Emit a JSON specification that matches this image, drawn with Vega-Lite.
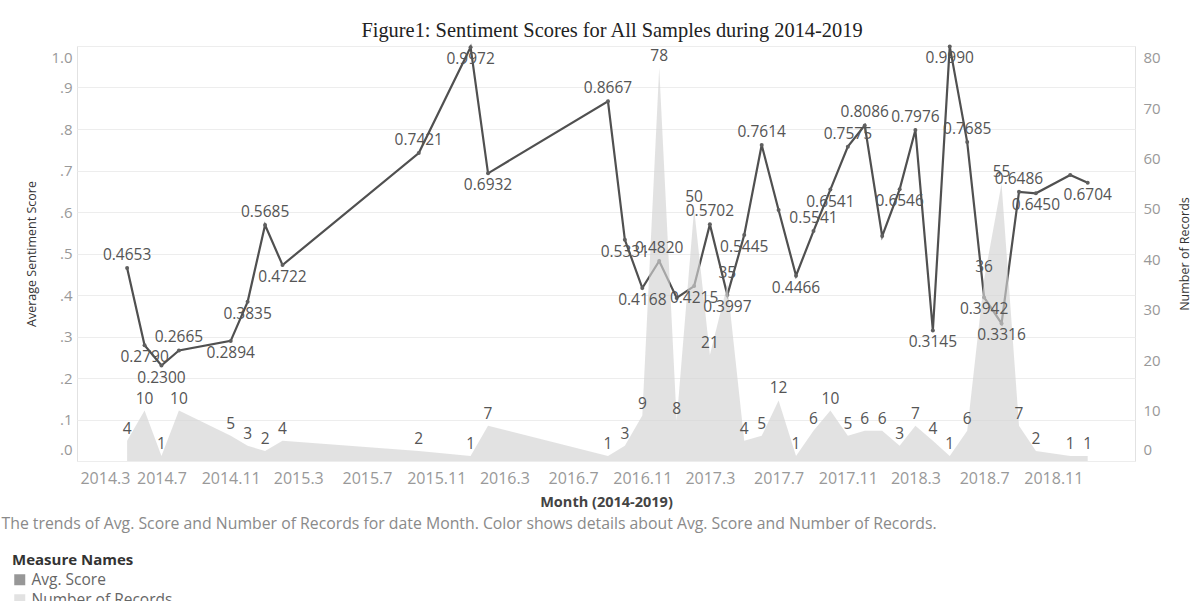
{
  "$schema": "https://vega.github.io/schema/vega-lite/v6.json",
  "width": 1058,
  "height": 415,
  "autosize": "none",
  "padding": {"left": 77, "top": 46, "right": 68, "bottom": 140},
  "background": "white",
  "title": {
    "text": "Figure1: Sentiment Scores for All Samples during 2014-2019",
    "font": "Liberation Serif",
    "fontSize": 20.4,
    "fontWeight": "normal",
    "color": "#222222",
    "anchor": "middle",
    "frame": "group",
    "dx": 6,
    "offset": 1
  },
  "data": {
    "values": [
      {"month": "2014-05-01", "score": 0.4653, "records": 4, "showLabel": true},
      {"month": "2014-06-01", "score": 0.2790, "records": 10, "showLabel": true},
      {"month": "2014-07-01", "score": 0.2300, "records": 1, "showLabel": true},
      {"month": "2014-08-01", "score": 0.2665, "records": 10, "showLabel": true},
      {"month": "2014-11-01", "score": 0.2894, "records": 5, "showLabel": true},
      {"month": "2014-12-01", "score": 0.3835, "records": 3, "showLabel": true},
      {"month": "2015-01-01", "score": 0.5685, "records": 2, "showLabel": true},
      {"month": "2015-02-01", "score": 0.4722, "records": 4, "showLabel": true},
      {"month": "2015-10-01", "score": 0.7421, "records": 2, "showLabel": true},
      {"month": "2016-01-01", "score": 0.9972, "records": 1, "showLabel": true},
      {"month": "2016-02-01", "score": 0.6932, "records": 7, "showLabel": true},
      {"month": "2016-09-01", "score": 0.8667, "records": 1, "showLabel": true},
      {"month": "2016-10-01", "score": 0.5331, "records": 3, "showLabel": true},
      {"month": "2016-11-01", "score": 0.4168, "records": 9, "showLabel": true},
      {"month": "2016-12-01", "score": 0.4820, "records": 78, "showLabel": true},
      {"month": "2017-01-01", "score": 0.3930, "records": 8, "showLabel": false},
      {"month": "2017-02-01", "score": 0.4215, "records": 50, "showLabel": true},
      {"month": "2017-03-01", "score": 0.5702, "records": 21, "showLabel": true},
      {"month": "2017-04-01", "score": 0.3997, "records": 35, "showLabel": true},
      {"month": "2017-05-01", "score": 0.5445, "records": 4, "showLabel": true},
      {"month": "2017-06-01", "score": 0.7614, "records": 5, "showLabel": true},
      {"month": "2017-07-01", "score": 0.6050, "records": 12, "showLabel": false},
      {"month": "2017-08-01", "score": 0.4466, "records": 1, "showLabel": true},
      {"month": "2017-09-01", "score": 0.5541, "records": 6, "showLabel": true},
      {"month": "2017-10-01", "score": 0.6541, "records": 10, "showLabel": true},
      {"month": "2017-11-01", "score": 0.7575, "records": 5, "showLabel": true},
      {"month": "2017-12-01", "score": 0.8086, "records": 6, "showLabel": true},
      {"month": "2018-01-01", "score": 0.5420, "records": 6, "showLabel": false},
      {"month": "2018-02-01", "score": 0.6546, "records": 3, "showLabel": true},
      {"month": "2018-03-01", "score": 0.7976, "records": 7, "showLabel": true},
      {"month": "2018-04-01", "score": 0.3145, "records": 4, "showLabel": true},
      {"month": "2018-05-01", "score": 0.9990, "records": 1, "showLabel": true},
      {"month": "2018-06-01", "score": 0.7685, "records": 6, "showLabel": true},
      {"month": "2018-07-01", "score": 0.3942, "records": 36, "showLabel": true},
      {"month": "2018-08-01", "score": 0.3316, "records": 55, "showLabel": true},
      {"month": "2018-09-01", "score": 0.6486, "records": 7, "showLabel": true},
      {"month": "2018-10-01", "score": 0.6450, "records": 2, "showLabel": true},
      {"month": "2018-12-01", "score": 0.6890, "records": 1, "showLabel": false},
      {"month": "2019-01-01", "score": 0.6704, "records": 1, "showLabel": true}
    ]
  },
  "layer": [
    {
      "encoding": {
        "x": {
          "field": "month",
          "type": "temporal",
          "scale": {
            "type": "utc",
            "domain": [
              {"year": 2014, "month": 2, "date": 1, "utc": true},
              {"year": 2019, "month": 3, "date": 26, "utc": true}
            ]
          },
          "axis": {
            "orient": "bottom",
            "values": [
              {"year": 2014, "month": 3, "date": 1, "utc": true},
              {"year": 2014, "month": 7, "date": 1, "utc": true},
              {"year": 2014, "month": 11, "date": 1, "utc": true},
              {"year": 2015, "month": 3, "date": 1, "utc": true},
              {"year": 2015, "month": 7, "date": 1, "utc": true},
              {"year": 2015, "month": 11, "date": 1, "utc": true},
              {"year": 2016, "month": 3, "date": 1, "utc": true},
              {"year": 2016, "month": 7, "date": 1, "utc": true},
              {"year": 2016, "month": 11, "date": 1, "utc": true},
              {"year": 2017, "month": 3, "date": 1, "utc": true},
              {"year": 2017, "month": 7, "date": 1, "utc": true},
              {"year": 2017, "month": 11, "date": 1, "utc": true},
              {"year": 2018, "month": 3, "date": 1, "utc": true},
              {"year": 2018, "month": 7, "date": 1, "utc": true},
              {"year": 2018, "month": 11, "date": 1, "utc": true}
            ],
            "labelExpr": "utcFormat(datum.value, '%Y.%-m')",
            "labelFlush": 20,
            "labelFlushOffset": 12.8,
            "labelOverlap": false,
            "labelPadding": 9,
            "labelFontSize": 16,
            "labelColor": "#999999",
            "ticks": false,
            "domain": false,
            "grid": false,
            "title": "Month (2014-2019)",
            "titleX": 529,
            "titleY": 41,
            "titleAlign": "center",
            "titleBaseline": "middle",
            "titleFontSize": 14.5,
            "titleFontWeight": "bold",
            "titleColor": "#444444"
          }
        },
        "y": {
          "field": "score",
          "type": "quantitative",
          "scale": {"domain": [0, 1], "nice": false, "zero": false},
          "axis": {
            "orient": "left",
            "values": [0, 0.1, 0.2, 0.3, 0.4, 0.5, 0.6, 0.7, 0.8, 0.9, 1],
            "labelExpr": "datum.value >= 1 ? '1.0' : replace(format(datum.value, '.1f'), '0.', '.')",
            "labelFlush": true,
            "labelFlushOffset": -4,
            "labelPadding": 5,
            "labelFontSize": 15,
            "labelColor": "#999999",
            "ticks": false,
            "domain": false,
            "grid": true,
            "gridColor": "#ededed",
            "title": "Average Sentiment Score",
            "titleX": -46,
            "titleY": 207.5,
            "titleAngle": 270,
            "titleAlign": "center",
            "titleBaseline": "middle",
            "titleFontSize": 12.5,
            "titleFontWeight": "normal",
            "titleColor": "#333333"
          }
        }
      },
      "layer": [
        {"mark": {"type": "line", "color": "#505050", "strokeWidth": 2.2}},
        {
          "mark": {"type": "point", "filled": true, "size": 16, "opacity": 1},
          "encoding": {
            "color": {
              "datum": "Avg. Score",
              "scale": {
                "domain": ["Avg. Score", "Number of Records"],
                "range": ["#5f5f5f", "#d2d2d2"]
              },
              "legend": {
                "orient": "none",
                "legendX": -65,
                "legendY": 507,
                "title": "Measure Names",
                "symbolType": "square",
                "symbolSize": 121,
                "symbolStrokeWidth": 0,
                "symbolOpacity": 1,
                "titleFont": "Open Sans",
                "titleFontSize": 15,
                "titleFontWeight": "bold",
                "titleColor": "#333333",
                "titlePadding": 4,
                "labelFont": "Open Sans",
                "labelFontSize": 15.5,
                "labelColor": "#666666",
                "rowPadding": 3,
                "padding": 0
              }
            }
          }
        }
      ]
    },
    {
      "encoding": {
        "x": {
          "field": "month",
          "type": "temporal",
          "scale": {
            "type": "utc",
            "domain": [
              {"year": 2014, "month": 2, "date": 1, "utc": true},
              {"year": 2019, "month": 3, "date": 26, "utc": true}
            ]
          },
          "axis": {
            "orient": "bottom",
            "labels": false,
            "ticks": false,
            "domain": false,
            "grid": false,
            "title": "The trends of Avg. Score and Number of Records for date Month.  Color shows details about Avg. Score and Number of Records.",
            "titleX": -76,
            "titleY": 62,
            "titleAlign": "left",
            "titleAnchor": "start",
            "titleBaseline": "middle",
            "titleFontSize": 15.8,
            "titleFontWeight": "normal",
            "titleColor": "#8a8a8a"
          }
        },
        "y": {
          "field": "records",
          "type": "quantitative",
          "scale": {"domain": [0, 82.3], "nice": false, "zero": false},
          "axis": {
            "orient": "right",
            "values": [0, 10, 20, 30, 40, 50, 60, 70, 80],
            "labelFlush": true,
            "labelFlushOffset": -4,
            "labelPadding": 8,
            "labelFontSize": 15,
            "labelColor": "#999999",
            "ticks": false,
            "domain": false,
            "grid": false,
            "title": "Number of Records",
            "titleX": 49,
            "titleY": 207.5,
            "titleAngle": 270,
            "titleAlign": "center",
            "titleBaseline": "middle",
            "titleFontSize": 12.5,
            "titleFontWeight": "normal",
            "titleColor": "#333333"
          }
        }
      },
      "layer": [
        {
          "mark": {"type": "area", "opacity": 0.65},
          "encoding": {"color": {"datum": "Number of Records"}}
        },
        {
          "mark": {"type": "text", "baseline": "bottom", "dy": -4, "fontSize": 15.5, "color": "#555555", "font": "Open Sans"},
          "encoding": {"text": {"field": "records", "type": "quantitative"}}
        }
      ]
    },
    {
      "transform": [
        {
          "window": [
            {"op": "lag", "field": "score", "as": "prev"},
            {"op": "lead", "field": "score", "as": "next"}
          ],
          "sort": [{"field": "month"}]
        },
        {"filter": "datum.showLabel"},
        {
          "calculate": "(datum.prev == null ? datum.score > datum.next : datum.next == null ? datum.score > datum.prev : datum.score >= (datum.prev + datum.next) / 2) && datum.score < 0.93",
          "as": "above"
        }
      ],
      "encoding": {
        "x": {
          "field": "month",
          "type": "temporal",
          "scale": {
            "type": "utc",
            "domain": [
              {"year": 2014, "month": 2, "date": 1, "utc": true},
              {"year": 2019, "month": 3, "date": 26, "utc": true}
            ]
          },
          "axis": null
        },
        "y": {
          "field": "score",
          "type": "quantitative",
          "scale": {"domain": [0, 1], "nice": false, "zero": false},
          "axis": null
        },
        "text": {"field": "score", "type": "quantitative", "format": ".4f"}
      },
      "layer": [
        {
          "transform": [{"filter": "datum.above"}],
          "mark": {"type": "text", "baseline": "bottom", "dy": -5, "fontSize": 15.5, "color": "#555555", "font": "Open Sans"}
        },
        {
          "transform": [{"filter": "!datum.above"}],
          "mark": {"type": "text", "baseline": "top", "dy": 5, "fontSize": 15.5, "color": "#555555", "font": "Open Sans"}
        }
      ]
    }
  ],
  "resolve": {"scale": {"y": "independent"}, "axis": {"x": "independent"}},
  "config": {
    "font": "Open Sans",
    "view": {"stroke": "#e2e2e2", "strokeWidth": 1},
    "axis": {"labelFont": "Open Sans", "titleFont": "Open Sans"}
  }
}
